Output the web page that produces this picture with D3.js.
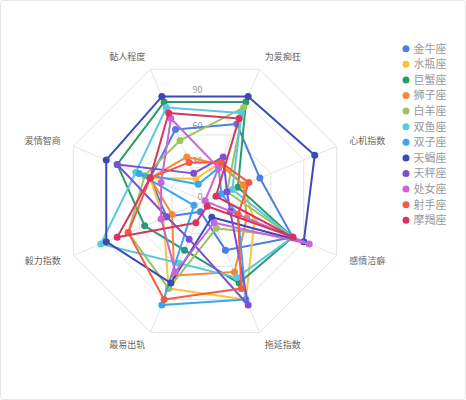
<!DOCTYPE html>
<html>
<head>
<meta charset="utf-8">
<script src="https://cdn.jsdelivr.net/npm/d3@7/dist/d3.min.js"></script>
<style>
  body { margin: 0; background: #fff; }
  svg { display: block; font-family: "Noto Sans CJK SC", "Noto Sans", sans-serif; }
</style>
</head>
<body>
<svg id="chart"></svg>
<script>
// axes of the radar, clockwise from top-left
const dimensions = ["黏人程度", "为爱痴狂", "心机指数", "感情洁癖", "拖延指数", "最易出轨", "毅力指数", "爱情智商"];
const signs = ["金牛座", "水瓶座", "巨蟹座", "狮子座", "白羊座", "双鱼座", "双子座", "天蝎座", "天秤座", "处女座", "射手座", "摩羯座"];
const colors = ["#4b7fe3", "#f9c23f", "#2c9b6c", "#f4893b", "#9cc45e", "#5ac9dd", "#3aa5f1", "#3c4bb4", "#7c50d6", "#c865d9", "#f55a44", "#d8345d"];

const taurus = [65, 70, 50, 80, 45, 10, 35, 50];
const aquarius = [20, 35, 35, 45, 90, 80, 38, 50];
const cancer = [90, 90, 30, 80, 75, 45, 55, 80];
const leo = [40, 33, 35, 38, 65, 68, 30, 50];
const aries = [55, 85, 20, 80, 25, 80, 70, 55];
const pisces = [85, 80, 25, 80, 70, 57, 95, 63];
const gemini = [15, 30, 15, 30, 90, 95, 10, 60];
const scorpio = [95, 95, 100, 90, 15, 75, 90, 90];
const libra = [25, 40, 20, 23, 95, 35, 35, 80];
const virgo = [75, 30, 0, 95, 20, 65, 40, 40];
const sagittarius = [35, 35, 40, 30, 80, 90, 70, 50];
const capricorn = [80, 75, 10, 80, 5, 20, 80, 50];

const radialTicks = [0, 30, 60, 90, 120];
const tickLabels = [0, 30, 60, 90];

const seriesValues = [taurus, aquarius, cancer, leo, aries, pisces, gemini, scorpio, libra, virgo, sagittarius, capricorn];
const series = signs.map((name, i) => ({ name, color: colors[i], values: seriesValues[i] }));

const W = 466, H = 400;
const cx = 205, cy = 200.8;
const R = 142.5;

const svg = d3.select("#chart").attr("width", W).attr("height", H);

svg.append("rect")
  .attr("x", 0.5).attr("y", 0.5)
  .attr("width", W - 1).attr("height", H - 1)
  .attr("rx", 3)
  .attr("fill", "#fff")
  .attr("stroke", "#e6e6e6");

const r = d3.scaleLinear().domain([0, 120]).range([0, R]);
const angle = d3.scaleLinear().domain([0, dimensions.length]).range([-Math.PI / 8, 2 * Math.PI - Math.PI / 8]);

const g = svg.append("g").attr("transform", `translate(${cx},${cy})`);

// grid octagons
const gridLine = d3.lineRadial()
  .angle((d, i) => angle(i))
  .radius(d => r(d))
  .curve(d3.curveLinearClosed);

g.selectAll(".grid")
  .data(radialTicks.slice(1))
  .enter()
  .append("path")
  .attr("class", "grid")
  .attr("d", t => gridLine(dimensions.map(() => t)))
  .attr("fill", "none")
  .attr("stroke", "#e3e3e3")
  .attr("stroke-width", 1);

// spokes
g.selectAll(".spoke")
  .data(dimensions)
  .enter()
  .append("line")
  .attr("class", "spoke")
  .attr("x1", 0).attr("y1", 0)
  .attr("x2", (d, i) => r(120) * Math.sin(angle(i)))
  .attr("y2", (d, i) => -r(120) * Math.cos(angle(i)))
  .attr("stroke", "#e3e3e3")
  .attr("stroke-width", 1);

// dimension labels
g.selectAll(".dim")
  .data(dimensions)
  .enter()
  .append("text")
  .attr("class", "dim")
  .attr("x", (d, i) => (R + 13.5) * Math.sin(angle(i)))
  .attr("y", (d, i) => -(R + 13.5) * Math.cos(angle(i)))
  .attr("dy", "0.35em")
  .attr("text-anchor", (d, i) => Math.sin(angle(i)) > 0 ? "start" : "end")
  .style("font-size", "9px")
  .style("fill", "#666")
  .text(d => d);

// radial tick labels
g.selectAll(".tick-label")
  .data(tickLabels)
  .enter()
  .append("text")
  .attr("class", "tick-label")
  .attr("x", -2.5)
  .attr("y", d => -r(d) - 1)
  .attr("text-anchor", "end")
  .style("font-size", "9px")
  .style("fill", "#999")
  .text(d => d);

// series lines
const line = d3.lineRadial()
  .angle((d, i) => angle(i))
  .radius(d => r(d))
  .curve(d3.curveLinearClosed);

const sg = g.selectAll(".series")
  .data(series)
  .enter()
  .append("g")
  .attr("class", "series");

sg.append("path")
  .attr("d", d => line(d.values))
  .attr("fill", "none")
  .attr("stroke", d => d.color)
  .attr("stroke-width", 2)
  .attr("stroke-linejoin", "round");

sg.selectAll("circle")
  .data(d => d.values.map((v, i) => ({ v, i, color: d.color })))
  .enter()
  .append("circle")
  .attr("cx", d => r(d.v) * Math.sin(angle(d.i)))
  .attr("cy", d => -r(d.v) * Math.cos(angle(d.i)))
  .attr("r", 3.5)
  .attr("fill", d => d.color);

// legend
const legend = svg.append("g").attr("transform", "translate(406,48.7)");
const item = legend.selectAll(".item")
  .data(series)
  .enter()
  .append("g")
  .attr("transform", (d, i) => `translate(0,${i * 15.6})`);

item.append("circle").attr("r", 3.5).attr("fill", d => d.color);
item.append("text")
  .attr("x", 7.5)
  .attr("dy", "0.36em")
  .style("font-size", "11px")
  .style("fill", "#999")
  .text(d => d.name);
</script>
</body>
</html>
